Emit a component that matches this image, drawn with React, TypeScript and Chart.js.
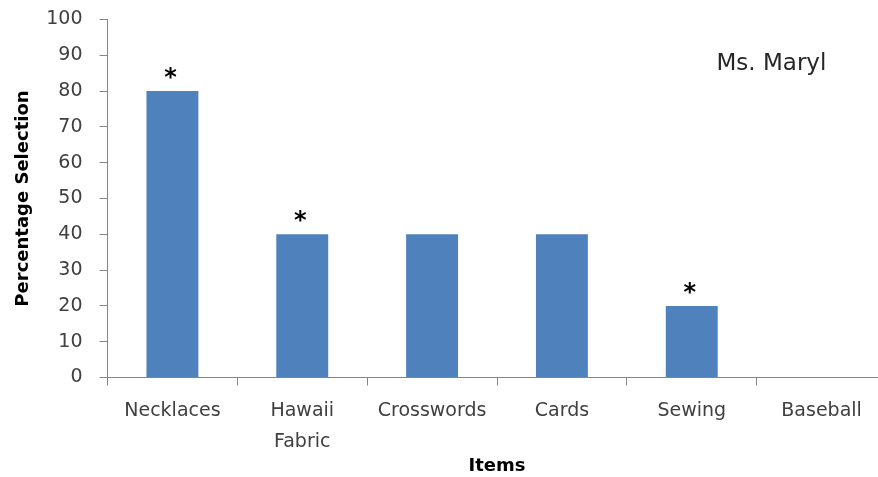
import React, { useEffect, useRef } from "react";
import { Chart, registerables } from "chart.js";

Chart.register(...registerables);

// Items offered and the share of selections each received
const categories: (string | string[])[] = [
  "Necklaces",
  ["Hawaii", "Fabric"],
  "Crosswords",
  "Cards",
  "Sewing",
  "Baseball",
];
const percentages = [80, 40, 40, 40, 20, 0];
// Items flagged with an asterisk above the bar
const significant = [true, true, false, false, true, false];

const teacherLabel = "Ms. Maryl";
const yAxisTitle = "Percentage Selection";
const xAxisTitle = "Items";

const FONT = "'DejaVu Sans', sans-serif";
const AXIS_GRAY = "#868686";
const TICK_COLOR = "#404040";
const BAR_BLUE = "#4F81BD";

const asteriskPlugin = {
  id: "asterisks",
  afterDatasetsDraw(chart: any) {
    const meta = chart.getDatasetMeta(0);
    const ctx = chart.ctx;
    ctx.save();
    ctx.font = `bold 24px ${FONT}`;
    ctx.fillStyle = "#000";
    ctx.textAlign = "center";
    ctx.textBaseline = "alphabetic";
    const m = ctx.measureText("*");
    const shift = (m.actualBoundingBoxAscent - m.actualBoundingBoxDescent) / 2;
    meta.data.forEach((bar: any, i: number) => {
      if (!significant[i]) return;
      ctx.fillText("*", bar.x - 2, bar.y - 18 + shift);
    });
    ctx.restore();
  },
};

const labelPlugin = {
  id: "teacherLabel",
  afterDraw(chart: any) {
    const { ctx, chartArea } = chart;
    ctx.save();
    ctx.font = `23px ${FONT}`;
    ctx.fillStyle = "#262626";
    ctx.textAlign = "left";
    ctx.textBaseline = "alphabetic";
    ctx.fillText(teacherLabel, chartArea.left + 609, chartArea.top + 50);
    ctx.restore();
  },
};

export default function App() {
  const canvasRef = useRef<HTMLCanvasElement | null>(null);

  useEffect(() => {
    if (!canvasRef.current) return;
    const chart = new Chart(canvasRef.current, {
      type: "bar",
      data: {
        labels: categories,
        datasets: [
          {
            data: percentages,
            backgroundColor: BAR_BLUE,
            borderWidth: 0,
            barPercentage: 0.4,
            categoryPercentage: 1,
          },
        ],
      },
      options: {
        animation: false,
        responsive: true,
        maintainAspectRatio: false,
        layout: { padding: { top: 19.5, left: 0, right: 1.5, bottom: 0 } },
        plugins: {
          legend: { display: false },
          tooltip: { enabled: false },
        },
        scales: {
          x: {
            grid: {
              display: true,
              offset: true,
              drawOnChartArea: false,
              drawTicks: true,
              tickLength: 8,
              color: AXIS_GRAY,
            },
            border: { display: true, color: AXIS_GRAY, width: 1 },
            ticks: {
              color: TICK_COLOR,
              font: { family: FONT, size: 19, lineHeight: "31px" },
              padding: 10,
              maxRotation: 0,
              autoSkip: false,
            },
            title: {
              display: true,
              text: xAxisTitle,
              color: "#000",
              font: { family: FONT, size: 18, weight: "bold" },
              padding: { top: 0, bottom: 0 },
            },
            afterFit(scale: any) {
              scale.height = 99.5;
              scale.paddingLeft = 0;
              scale.paddingRight = 0;
            },
          },
          y: {
            min: 0,
            max: 100,
            grid: {
              display: true,
              drawOnChartArea: false,
              drawTicks: true,
              tickLength: 8,
              color: AXIS_GRAY,
            },
            border: { display: true, color: AXIS_GRAY, width: 1 },
            ticks: {
              stepSize: 10,
              color: TICK_COLOR,
              font: { family: FONT, size: 19 },
              padding: 17,
            },
            title: {
              display: true,
              text: yAxisTitle,
              color: "#000",
              font: { family: FONT, size: 18, weight: "bold" },
              padding: { top: 13, bottom: 0 },
            },
            afterFit(scale: any) {
              scale.width = 107.5;
              scale.paddingTop = 0;
              scale.paddingBottom = 0;
            },
          },
        },
      },
      plugins: [asteriskPlugin, labelPlugin],
    });
    return () => chart.destroy();
  }, []);

  return (
    <div
      style={{
        position: "fixed",
        left: 0,
        top: 0,
        width: 878,
        height: 477,
        overflow: "hidden",
        background: "#fff",
      }}
    >
      <div style={{ position: "relative", width: 888, height: 477 }}>
        <canvas ref={canvasRef} />
      </div>
    </div>
  );
}
